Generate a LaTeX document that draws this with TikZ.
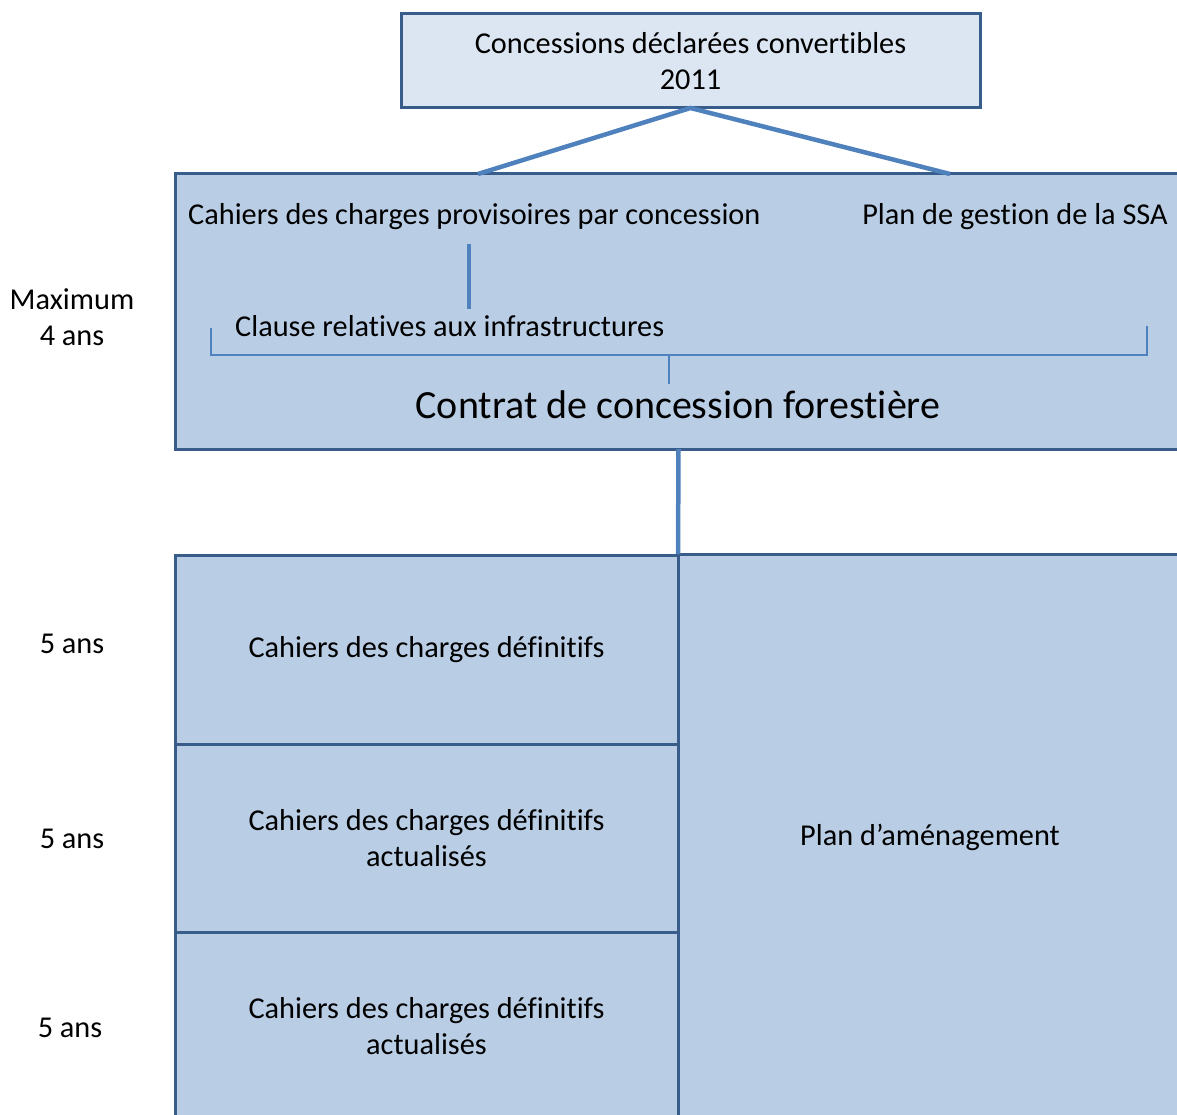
\documentclass[tikz,border=0pt]{standalone}
\usepackage{fontspec}
\setmainfont{Carlito}[Ligatures={NoCommon}]
\usetikzlibrary{positioning,calc}
\definecolor{boxline}{HTML}{385D8A}
\definecolor{boxfill}{HTML}{B9CDE5}
\definecolor{topfill}{HTML}{DCE6F2}
\definecolor{linkblue}{HTML}{4F81BD}
\tikzset{
  txt/.style={font=\fontsize{30.3}{36}\selectfont, inner sep=0pt, align=center},
  box/.style={txt, draw=boxline, fill=boxfill, line width=3pt, outer sep=0pt},
  link/.style={draw=linkblue, line width=4.5pt},
  bracket/.style={draw=linkblue, line width=1.5pt}
}

\begin{document}
\begin{tikzpicture}[x=1pt,y=-1pt]
  \useasboundingbox (0,0) rectangle (1177,1115);
  \clip (0,0) rectangle (1177,1115);
  \coordinate (jl) at (478,174);
  \coordinate (jr) at (950,174);
  \coordinate (bartop) at (469,244);
  \coordinate (barbot) at (469,309);
  % boxes
  \node[box, fill=topfill, minimum width=579pt, minimum height=94pt] (conv) at (690.5,61) {Concessions déclarées convertibles\\2011};
  \node[box, minimum width=1007pt, minimum height=275pt] (contract) at (678.5,311.5) {};
  \node[box, minimum width=504pt, minimum height=566pt] (plan) at (930,837) {Plan d’aménagement};
  \node[box, minimum width=503pt, minimum height=189pt] (def1) at (426.5,650) {Cahiers des charges définitifs};
  \node[box, minimum width=503pt, minimum height=188pt] (def2) at (426.5,838.5) {Cahiers des charges définitifs\\actualisés};
  \node[box, minimum width=503pt, minimum height=188pt] (def3) at (426.5,1026.5) {Cahiers des charges définitifs\\actualisés};
  % inside the contract
  \node[txt, anchor=west] (prov) at (188,217) {Cahiers des charges provisoires par concession};
  \node[txt, anchor=east] (ssa) at (1168,217) {Plan de gestion de la SSA};
  \node[txt, anchor=west] (clause) at (235,326) {Clause relatives aux infrastructures};
  \node[txt, font=\fontsize{40}{48}\selectfont] (contrat) at (678,405) {Contrat de concession forestière};
  \draw[link] (bartop) -- (barbot);
  \draw[bracket] (211,328) -- (211,355) -- (1147,355) -- (1147,326);
  \draw[bracket] (669,355) -- (669,384);
  % connectors
  \draw[link] (jl) -- (conv.south) -- (jr);
  \draw[link] (contract.south) -- (plan.north west);
  % durations
  \node[txt] (max) at (72,317) {Maximum\\4 ans};
  \node[txt] (y1) at (72,644) {5 ans};
  \node[txt] (y2) at (72,839) {5 ans};
  \node[txt] (y3) at (70,1028) {5 ans};
\end{tikzpicture}
\end{document}
